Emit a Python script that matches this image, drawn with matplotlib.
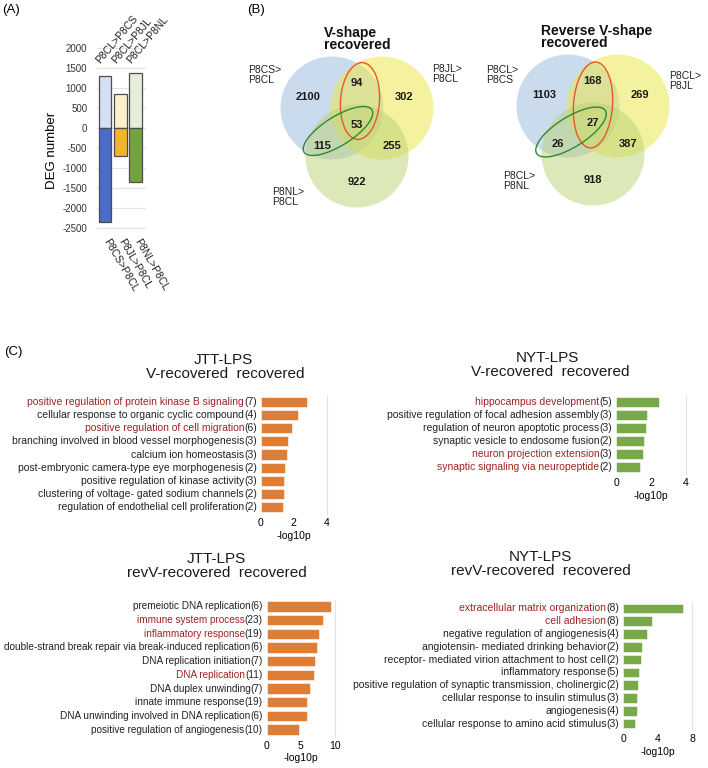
import matplotlib
matplotlib.use("Agg")
import matplotlib.pyplot as plt
from matplotlib.patches import Circle, Ellipse

plt.rcParams['font.family'] = ['Liberation Sans', 'DejaVu Sans']

W, H = 708, 768
fig = plt.figure(figsize=(W / 100, H / 100), dpi=100)


def px_axes(x0, y0, x1, y1):
    return fig.add_axes([x0 / W, 1 - y1 / H, (x1 - x0) / W, (y1 - y0) / H])

# ---------------- data ----------------
# Panel A
deg_up_labels = ["P8CL>P8CS", "P8CL>P8JL", "P8CL>P8NL"]
deg_down_labels = ["P8CS>P8CL", "P8JL>P8CL", "P8NL>P8CL"]
deg_up = [1310, 840, 1365]
deg_down = [-2360, -710, -1340]
deg_yticks = [2000, 1500, 1000, 500, 0, -500, -1000, -1500, -2000, -2500]

# Panel B
venn_v_title = "V-shape\nrecovered"
venn_v_sets = ["P8CS>\nP8CL", "P8JL>\nP8CL", "P8NL>\nP8CL"]
venn_v_counts = [2100, 94, 302, 53, 115, 255, 922]
venn_r_title = "Reverse V-shape\nrecovered"
venn_r_sets = ["P8CL>\nP8CS", "P8CL>\nP8JL", "P8CL>\nP8NL"]
venn_r_counts = [1103, 168, 269, 27, 26, 387, 918]

# Panel C
tl_terms = ["positive regulation of protein kinase B signaling",
            "cellular response to organic cyclic compound",
            "positive regulation of cell migration",
            "branching involved in blood vessel morphogenesis",
            "calcium ion homeostasis",
            "post-embryonic camera-type eye morphogenesis",
            "positive regulation of kinase activity",
            "clustering of voltage- gated sodium channels",
            "regulation of endothelial cell proliferation"]
tl_counts = [7, 4, 6, 3, 3, 2, 3, 2, 2]
tl_vals = [2.8, 2.28, 1.88, 1.67, 1.6, 1.47, 1.4, 1.4, 1.33]
tl_red = [1, 0, 1, 0, 0, 0, 0, 0, 0]

tr_terms = ["hippocampus development",
            "positive regulation of focal adhesion assembly",
            "regulation of neuron apoptotic process",
            "synaptic vesicle to endosome fusion",
            "neuron projection extension",
            "synaptic signaling via neuropeptide"]
tr_counts = [5, 3, 3, 2, 3, 2]
tr_vals = [2.46, 1.79, 1.69, 1.6, 1.52, 1.35]
tr_red = [1, 0, 0, 0, 1, 1]

bl_terms = ["premeiotic DNA replication",
            "immune system process",
            "inflammatory response",
            "double-strand break repair via break-induced replication",
            "DNA replication initiation",
            "DNA replication",
            "DNA duplex unwinding",
            "innate immune response",
            "DNA unwinding involved in DNA replication",
            "positive regulation of angiogenesis"]
bl_counts = [6, 23, 19, 6, 7, 11, 7, 19, 6, 10]
bl_vals = [9.4, 8.3, 7.7, 7.3, 7.1, 6.9, 6.3, 5.95, 5.9, 4.8]
bl_red = [0, 1, 1, 0, 0, 1, 0, 0, 0, 0]

br_terms = ["extracellular matrix organization",
            "cell adhesion",
            "negative regulation of angiogenesis",
            "angiotensin- mediated drinking behavior",
            "receptor- mediated virion attachment to host cell",
            "inflammatory response",
            "positive regulation of synaptic transmission, cholinergic",
            "cellular response to insulin stimulus",
            "angiogenesis",
            "cellular response to amino acid stimulus"]
br_counts = [8, 8, 4, 2, 2, 5, 2, 3, 4, 3]
br_vals = [6.95, 3.28, 2.78, 2.12, 2.08, 1.86, 1.74, 1.62, 1.54, 1.35]
br_red = [1, 1, 0, 0, 0, 0, 0, 0, 0, 0]

# ---------------- overlay (Venn + panel letters) ----------------
ov = fig.add_axes([0, 0, 1, 1])
ov.set_xlim(0, W)
ov.set_ylim(H, 0)
ov.axis('off')

ov.text(2, 10, "(A)", fontsize=9.5, va='center', ha='left')
ov.text(247, 10, "(B)", fontsize=9.5, va='center', ha='left')
ov.text(4, 352, "(C)", fontsize=9.5, va='center', ha='left')

circle_cols = ['#98b8de', '#ede741', '#bbd373']


def draw_venn(cx, cy, counts, sets, title, title_x, set_pos, red_ell, green_ell):
    r = 51.5
    centers = [(cx - 25, cy), (cx + 25, cy), (cx, cy + 48)]
    for (x, y), c in zip(centers, circle_cols):
        ov.add_patch(Circle((x, y), r, facecolor=c, edgecolor='none', alpha=0.5))
    offs = [(-49, -11), (0, -25), (47, -11), (0, 17), (-35, 38), (35, 38), (0, 74)]
    for (dx, dy), n in zip(offs, counts):
        ov.text(cx + dx, cy + dy, str(n), fontsize=8, fontweight='bold',
                ha='center', va='center', color='#1a1a1a')
    for (x, y), s in zip(set_pos, sets):
        ov.text(x, y, s, fontsize=7.5, ha='left', va='center', linespacing=0.95,
                color='#222222')
    ov.text(title_x, cy - 69, title, fontsize=10, fontweight='bold', ha='left',
            va='center', linespacing=0.9, color='#111111')
    ex, ey, ew, eh, ea = red_ell
    ov.add_patch(Ellipse((ex, ey), ew, eh, angle=ea, facecolor='none',
                         edgecolor='#e8562a', lw=1.0))
    gx, gy, gw, gh, ga = green_ell
    ov.add_patch(Ellipse((gx, gy), gw, gh, angle=ga, facecolor='none',
                         edgecolor='#2f8a2f', lw=1.0))


draw_venn(357, 108, venn_v_counts, venn_v_sets, venn_v_title, 324,
          [(248, 75), (432, 74), (272, 197)],
          (360, 101, 39, 77, 4), (338, 131, 80, 29, -32))
draw_venn(593, 106, venn_r_counts, venn_r_sets, venn_r_title, 541,
          [(486, 75), (669, 81), (503, 181)],
          (593, 105, 39, 86, 4), (571, 132, 81, 30, -32))

# ---------------- Panel A ----------------
axA = px_axes(97, 48, 146, 248)
xs = list(range(len(deg_up)))
up_cols = ['#d7e0f2', '#fcf0cb', '#e4efd8']
dn_cols = ['#4a6cc6', '#f0b62a', '#73a340']
axA.bar(xs, deg_up, width=0.82, color=up_cols, edgecolor='#4d4d4d', linewidth=0.9, zorder=3)
axA.bar(xs, deg_down, width=0.82, color=dn_cols, edgecolor='#4d4d4d', linewidth=0.9, zorder=3)
axA.set_xlim(-0.52, 2.68)
axA.set_ylim(-3000, 2000)
yt = list(range(-3000, 2001, 500))
axA.set_yticks(yt)
axA.set_yticklabels(['' if v not in deg_yticks else str(v) for v in yt],
                    fontsize=7, color='#333333')
axA.tick_params(axis='y', length=0, pad=7)
axA.set_xticks([])
axA.grid(axis='y', color='#e3e3e3', lw=0.8, zorder=0)
for s in axA.spines.values():
    s.set_visible(False)
ov.text(52, 150, "DEG number", rotation=90, fontsize=9.5, ha='center', va='center')
for i, lab in enumerate(deg_up_labels):
    axA.text(i - 0.2, 1560, lab, rotation=50, rotation_mode='anchor',
             ha='left', va='bottom', fontsize=7.5, color='#222222')
for i, lab in enumerate(deg_down_labels):
    axA.text(i + 0.05, -2780, lab, rotation=-60, rotation_mode='anchor',
             ha='left', va='center', fontsize=7.5, color='#222222')

# ---------------- Panel C ----------------
red_col = '#9e2424'


def go_panel(box, terms, counts, vals, reds, color, xmax, xticks, title1, title2, t1, t2, fs):
    x0, y0, x1, y1 = box
    ax = px_axes(x0, y0, x1, y1)
    n = len(terms)
    ys = list(range(n))
    ax.barh(ys, vals, height=0.76, color=color, edgecolor='white', linewidth=0.4, zorder=3)
    ax.set_ylim(n - 0.5, -0.5)
    ax.set_xlim(0, xmax)
    ax.set_xticks(xticks)
    ax.set_xticklabels([str(t) for t in xticks], fontsize=7.5)
    ax.tick_params(axis='x', length=0, pad=3)
    ax.set_yticks([])
    for k, s in ax.spines.items():
        s.set_visible(False)
    ax.spines['right'].set_visible(True)
    ax.spines['right'].set_color('#e2e2e2')
    ax.spines['right'].set_linewidth(0.8)
    ax.set_xlabel("-log10p", fontsize=7.5, labelpad=2)
    for i, (t, c, r) in enumerate(zip(terms, counts, reds)):
        ct = ax.annotate(f"({c})", xy=(0, i), xycoords=('axes fraction', 'data'),
                         xytext=(-3, 0), textcoords='offset points',
                         ha='right', va='center', fontsize=fs, color='#222222')
        ax.annotate(t, xy=(0, 0.5), xycoords=ct, ha='right', va='center',
                    fontsize=fs, color=red_col if r else '#222222')
    ov.text(t1[0], t1[1], title1, fontsize=11, ha='center', va='center', color='#1a1a1a')
    ov.text(t2[0], t2[1], title2, fontsize=11, ha='center', va='center', color='#1a1a1a')
    return ax


orange = '#de7d36'
green = '#79a84a'
go_panel((261, 395, 326.7, 514), tl_terms, tl_counts, tl_vals, tl_red, orange, 4, [0, 2, 4],
         "JTT-LPS", "V-recovered  recovered", (223, 360), (225, 374), 7.5)
go_panel((616.3, 395, 685.7, 474), tr_terms, tr_counts, tr_vals, tr_red, green, 4, [0, 2, 4],
         "NYT-LPS", "V-recovered  recovered", (547, 358), (550, 372), 7.5)
go_panel((266.7, 599.5, 335, 736.5), bl_terms, bl_counts, bl_vals, bl_red, orange, 10, [0, 5, 10],
         "JTT-LPS", "revV-recovered  recovered", (216, 559), (217, 573), 7.2)
go_panel((623.3, 602, 692.3, 730), br_terms, br_counts, br_vals, br_red, green, 8, [0, 4, 8],
         "NYT-LPS", "revV-recovered  recovered", (540, 557), (541, 571), 7.5)

fig.savefig("out.png", dpi=100)
